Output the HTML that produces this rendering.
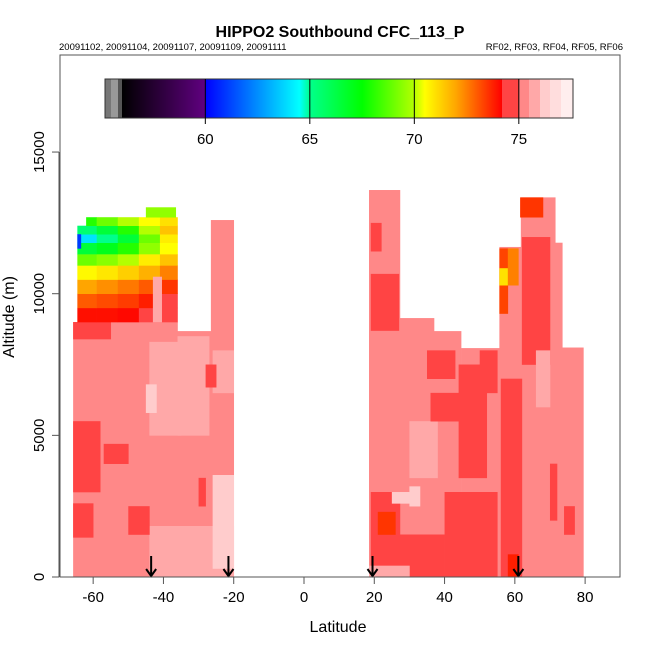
<!DOCTYPE html>
<html><head><meta charset="utf-8"><style>
html,body{margin:0;padding:0;background:#fff;}
svg{display:block;font-family:"Liberation Sans",sans-serif;}
</style></head><body>
<svg id="chart" width="650" height="650" viewBox="0 0 650 650">
<text x="340" y="37" text-anchor="middle" font-size="16" font-weight="bold">HIPPO2 Southbound CFC_113_P</text>
<text x="59" y="50" font-size="9.5">20091102, 20091104, 20091107, 20091109, 20091111</text>
<text x="623" y="50" font-size="9.5" text-anchor="end">RF02, RF03, RF04, RF05, RF06</text>
<g id="cells"></g>
<g id="arrows"></g>
<g id="cbar"></g>
<rect x="60" y="55" width="560" height="522" fill="none" stroke="#555" stroke-width="1"/>
<g id="xaxis"></g>
<g id="yaxis"></g>
<text x="338" y="632" text-anchor="middle" font-size="16">Latitude</text>
<text transform="translate(14,317) rotate(-90)" text-anchor="middle" font-size="16">Altitude (m)</text>
</svg>
<script>
// cells: [lat0, lat1, alt0, alt1, value]
const cellLat0 = [-65.7,-36,-26.5, -65.7,-65.7,-57,-65.7,-44,-45,-36,-44,-26,-26,-50,-30,-28,
 18.5,27.3,37,44.7,55.6,61.7,71.5,73.5, 19,19,27,40,44,35,62,56,70,21,58,30,30,66,25,18.5,19,36,50,74];
const cellLat1 = [-36,-26.5,-20, -58,-60,-50,-55,-35,-42,-27,-20,-20,-20,-44,-28,-25,
 27.3,37,44.7,55.6,61.7,71.5,73.5,79.5, 27.3,27,40,55,52,43,70,62,72,26,61,38,33,70,30,30,22,44,55,77];
const cellAlt0 = [0,0,0, 3000,1400,4000,8400,5000,5800,5000,0,300,6500,1500,2500,6700,
 0,0,0,0,0,0,0,0, 0,8700,0,0,3500,7000,7500,0,2000,1500,0,3500,2500,6000,2600,0,11500,5500,6500,1500];
const cellAlt1 = [9000,8680,12600, 5500,2600,4700,9000,8300,6800,8500,1800,3600,8000,2500,3500,7500,
 13660,9140,8680,8080,11650,13400,11800,8100, 3000,10700,1500,3000,7500,8000,12000,7000,4000,2300,800,5500,3200,8000,3000,400,12500,6500,8000,2500];
const cellVal = [75.3,75.3,75.3, 74.5,74.5,74.5,74.5,75.6,76.2,75.6,75.7,76.3,75.6,74.5,74.5,74.5,
 75.3,75.3,75.3,75.3,75.3,75.3,75.3,75.3, 74.5,74.5,74.5,74.5,74.5,74.5,74.5,74.5,74.5,73.5,73.8,75.6,76.2,75.7,76.2,75.7,74.5,74.5,74.5,74.5];
// gradient rows in southern upper region (five latitude segments)
const gradSegLat = [-64.5,-59,-53,-47,-41,-36];
const gradAlt0 = [9000,9500,10000,10500,11000,11400,11800,12100,12400];
const gradAlt1 = [9500,10000,10500,11000,11400,11800,12100,12400,12700];
const gradA = [74.0,73.0,72.0,70.6,69.0,66.5,64.0,65.5,68.0];
const gradB = [74.0,73.2,72.3,70.9,69.4,67.0,65.0,66.5,69.0];
const gradC = [74.1,73.4,72.6,71.3,70.0,68.0,66.5,68.0,70.0];
const gradD = [74.3,73.8,73.0,71.8,70.8,69.5,69.0,70.0,70.5];
const gradE = [74.5,74.5,73.5,72.5,71.5,70.5,70.8,71.5,71.0];
// extra cells drawn over gradient
const topLat0 = [-43,-45,-64.5, 55.6,55.6,58,61.5];
const topLat1 = [-40.5,-36.5,-63.5,58,58,61,68];
const topAlt0 = [9000,12700,11600,9300,10300,10300,12700];
const topAlt1 = [10600,13050,12100,11600,10900,11600,13400];
const topVal = [75.6,69.5,61,73.3,71,72.5,73.5];
const arrowLats = [-43.5,-21.5,19.5,61];
const xTicks = [-60,-40,-20,0,20,40,60,80];
const yTicks = [0,5000,10000,15000];
const cbTicks = [60,65,70,75];

const X = v => 304 + v*3.514;
const Y = a => 577 - a*0.02833;
const CB = v => 105 + (v-55.2)*20.9;
const NS='http://www.w3.org/2000/svg';
function mk(tag, attrs, parent){const e=document.createElementNS(NS,tag);for(const k in attrs)e.setAttribute(k,attrs[k]);parent.appendChild(e);return e;}
function lerp(c1,c2,t){return 'rgb('+c1.map((c,i)=>Math.round(c+(c2[i]-c)*t)).join(',')+')';}
const stops=[[56,[0,0,0]],[59.99,[96,0,128]],[60,[0,0,255]],[64.5,[0,255,255]],[65,[0,255,140]],[67.5,[0,255,0]],[70,[180,255,0]],[70.5,[255,255,0]],[72,[255,165,0]],[74.2,[255,0,0]]];
function color(v){
  if(v<55.5)return '#777';if(v<55.8)return '#999';if(v<56)return '#555';
  if(v>=77)return '#ffeeee';if(v>=76.5)return '#ffdddd';if(v>=76)return '#ffcccc';
  if(v>=75.5)return '#ffa8a8';if(v>=75)return '#ff8888';if(v>=74.2)return '#ff4444';
  for(let i=0;i<stops.length-1;i++){if(v>=stops[i][0]&&v<=stops[i+1][0])return lerp(stops[i][1],stops[i+1][1],(v-stops[i][0])/(stops[i+1][0]-stops[i][0]));}
  return '#ff0000';
}
const cells=document.getElementById('cells');
function cell(l0,l1,a0,a1,v){
  const r=mk('rect',{x:X(l0),y:Y(a1),width:X(l1)-X(l0)+0.3,height:Y(a0)-Y(a1)+0.3,fill:color(v)},cells);
  
  
}
for(let i=0;i<cellVal.length;i++)cell(cellLat0[i],cellLat1[i],cellAlt0[i],cellAlt1[i],cellVal[i]);
const gs=[gradA,gradB,gradC,gradD,gradE];
for(let r=0;r<gradAlt0.length;r++)for(let s=0;s<gs.length;s++){
  const l0=(r===gradAlt0.length-1&&s===0)?-62:gradSegLat[s];
  cell(l0,gradSegLat[s+1],gradAlt0[r],gradAlt1[r],gs[s][r]);
}
for(let i=0;i<topVal.length;i++)cell(topLat0[i],topLat1[i],topAlt0[i],topAlt1[i],topVal[i]);

const ar=document.getElementById('arrows');
arrowLats.forEach(l=>{
  const x=X(l);
  const g=mk('path',{d:`M${x} 556 L${x} 576 M${x-5} 569 L${x} 576 L${x+5} 569`,stroke:'#000','stroke-width':2,fill:'none'},ar);
  
  
});

const cb=document.getElementById('cbar');
for(let px=105;px<573;px++){
  const v=55.2+(px-105+0.5)/20.9;
  const r=mk('rect',{x:px,y:79,width:1.2,height:39,fill:color(v)},cb);
  
  
}
mk('rect',{x:105,y:79,width:468,height:39,fill:'none',stroke:'#333'},cb);
cbTicks.forEach(t=>{
  const x=CB(t);
  mk('line',{x1:x,x2:x,y1:79,y2:124,stroke:'#000','stroke-width':1},cb);
  const tx=mk('text',{x:x,y:144,'text-anchor':'middle','font-size':15},cb);
  tx.textContent=t;
  
  
});

const xa=document.getElementById('xaxis');
xTicks.forEach(t=>{
  const x=X(t);
  mk('line',{x1:x,x2:x,y1:577,y2:584,stroke:'#555'},xa);
  const tx=mk('text',{x:x,y:602,'text-anchor':'middle','font-size':15},xa);
  tx.textContent=t;
  
  
});
const ya=document.getElementById('yaxis');
mk('line',{x1:59,x2:59,y1:Y(0),y2:Y(15000),stroke:'#555'},ya);
mk('line',{x1:X(-60),x2:X(80),y1:577,y2:577,stroke:'#555'},xa);
yTicks.forEach(t=>{
  const y=Y(t);
  mk('line',{x1:52,x2:59,y1:y,y2:y,stroke:'#555'},ya);
  const tx=mk('text',{transform:`translate(44,${y}) rotate(-90)`,'text-anchor':'middle','font-size':15},ya);
  tx.textContent=t;
  
  
});
</script>
</body></html>
